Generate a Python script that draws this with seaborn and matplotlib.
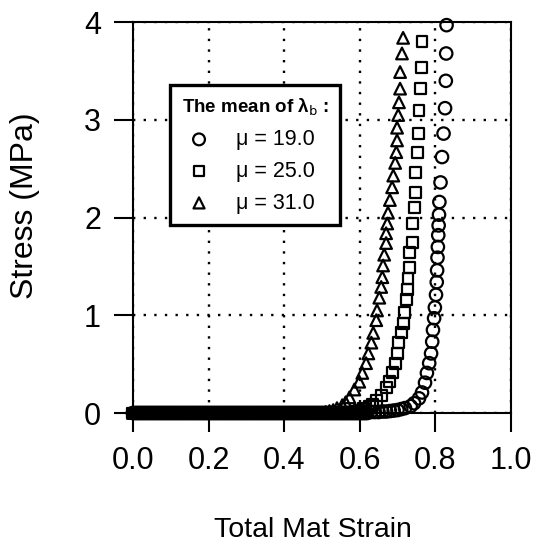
import pandas as pd
import matplotlib
matplotlib.use("Agg")
import matplotlib.pyplot as plt
import seaborn as sns

# flat part of the curves (stress ~ 0), densely sampled
flat_strain = [
    0.000, 0.005, 0.010, 0.015, 0.020, 0.025, 0.030, 0.035, 0.040, 0.045,
    0.050, 0.055, 0.060, 0.065, 0.070, 0.075, 0.080, 0.085, 0.090, 0.095,
    0.100, 0.105, 0.110, 0.115, 0.120, 0.125, 0.130, 0.135, 0.140, 0.145,
    0.150, 0.155, 0.160, 0.165, 0.170, 0.175, 0.180, 0.185, 0.190, 0.195,
    0.200, 0.205, 0.210, 0.215, 0.220, 0.225, 0.230, 0.235, 0.240, 0.245,
    0.250, 0.255, 0.260, 0.265, 0.270, 0.275, 0.280, 0.285, 0.290, 0.295,
    0.300, 0.305, 0.310, 0.315, 0.320, 0.325, 0.330, 0.335, 0.340, 0.345,
    0.350, 0.355, 0.360, 0.365, 0.370, 0.375, 0.380, 0.385, 0.390, 0.395,
    0.400, 0.405, 0.410, 0.415, 0.420, 0.425, 0.430, 0.435, 0.440, 0.445,
    0.450, 0.455, 0.460, 0.465, 0.470, 0.475, 0.480, 0.485, 0.490, 0.495,
    0.500, 0.505, 0.510, 0.515, 0.520, 0.525, 0.530, 0.535, 0.540, 0.545,
    0.550, 0.555, 0.560, 0.565, 0.570, 0.575, 0.580, 0.585, 0.590, 0.595,
    0.600, 0.605, 0.610, 0.615, 0.620,
]

# rising part, mu = 19.0 (circles)
strain_19 = [0.63, 0.64, 0.65, 0.66, 0.67, 0.68, 0.69, 0.70, 0.71, 0.72, 0.735,
             0.744, 0.757, 0.765, 0.773,
             0.778, 0.784, 0.789, 0.792, 0.794, 0.797, 0.799, 0.802, 0.804, 0.805,
             0.806, 0.807, 0.808, 0.809, 0.810, 0.811, 0.814, 0.818, 0.822, 0.826,
             0.828, 0.829, 0.830]
stress_19 = [0.01, 0.01, 0.01, 0.015, 0.015, 0.02, 0.025, 0.03, 0.04, 0.05, 0.07,
             0.10, 0.15, 0.21, 0.31,
             0.41, 0.51, 0.61, 0.73, 0.85, 0.97, 1.08, 1.21, 1.34, 1.46,
             1.59, 1.70, 1.82, 1.92, 2.03, 2.16, 2.36, 2.62, 2.86, 3.12,
             3.40, 3.68, 3.97]

# mu = 25.0 (squares)
strain_25 = [0.57, 0.58, 0.59, 0.60, 0.61, 0.625, 0.634, 0.644, 0.657, 0.670,
             0.678, 0.686, 0.694,
             0.699, 0.704, 0.710, 0.715, 0.718, 0.723, 0.726, 0.728, 0.731, 0.733,
             0.739, 0.741, 0.744, 0.747, 0.749, 0.753, 0.755, 0.757, 0.760, 0.763,
             0.765]
stress_25 = [0.01, 0.01, 0.02, 0.03, 0.05, 0.07, 0.09, 0.13, 0.18, 0.26,
             0.32, 0.41, 0.51,
             0.61, 0.72, 0.82, 0.92, 1.03, 1.16, 1.26, 1.38, 1.49, 1.64,
             1.75, 1.94, 2.10, 2.26, 2.46, 2.67, 2.86, 3.10, 3.32, 3.54,
             3.80]

# mu = 31.0 (triangles)
strain_31 = [0.51, 0.52, 0.53, 0.54, 0.554, 0.563, 0.573, 0.586, 0.599, 0.607,
             0.617, 0.623, 0.631,
             0.636, 0.644, 0.646, 0.652, 0.657, 0.660, 0.662, 0.665, 0.670, 0.670,
             0.673, 0.675, 0.680, 0.686, 0.689, 0.694, 0.697, 0.699, 0.699, 0.702,
             0.704, 0.707, 0.707, 0.712, 0.715]
stress_31 = [0.01, 0.02, 0.03, 0.05, 0.08, 0.11, 0.16, 0.24, 0.32, 0.41,
             0.51, 0.61, 0.72,
             0.82, 0.95, 1.05, 1.18, 1.29, 1.39, 1.51, 1.62, 1.74, 1.84,
             1.94, 2.05, 2.18, 2.31, 2.43, 2.56, 2.67, 2.79, 2.92, 3.05,
             3.18, 3.32, 3.49, 3.68, 3.84]

labels = ["μ = 19.0", "μ = 25.0", "μ = 31.0"]
rise_start = [0.62, 0.56, 0.50]


def build(strain, stress, start):
    xs = [s for s in flat_strain if s <= start + 1e-9] + strain
    ys = [0.0] * (len(xs) - len(strain)) + stress
    return pd.DataFrame({"strain": xs, "stress": ys})


sns.set_style("ticks")
plt.rcParams["font.family"] = ["Liberation Sans", "DejaVu Sans"]
plt.rcParams["text.color"] = "black"
plt.rcParams["axes.labelcolor"] = "black"

fig = plt.figure(figsize=(5.36, 5.42), dpi=100)
ax = fig.add_axes([0.248, 0.238, 0.705, 0.721])

series = [
    (build(strain_19, stress_19, rise_start[0]), "o", 80),
    (build(strain_25, stress_25, rise_start[1]), "s", 62),
    (build(strain_31, stress_31, rise_start[2]), "^", 70),
]
for (df, mk, size), lab in zip(series, labels):
    sns.scatterplot(data=df, x="strain", y="stress", ax=ax, marker=mk, s=size,
                    color="black", facecolor="none", edgecolor="black",
                    linewidth=1.6, label=lab, zorder=3, clip_on=False)

ax.set_xlim(0, 1.0)
ax.set_ylim(0, 4)
ax.set_xticks([0.0, 0.2, 0.4, 0.6, 0.8, 1.0])
ax.set_xticklabels(["0.0", "0.2", "0.4", "0.6", "0.8", "1.0"])
ax.set_yticks([0, 1, 2, 3, 4])
ax.grid(True, color="black", linestyle=(0, (1, 3.5)), linewidth=1.7)
for sp in ax.spines.values():
    sp.set_linewidth(1.5)
    sp.set_color("black")
ax.tick_params(direction="out", length=14, width=1.5, labelsize=22,
               colors="black")
ax.tick_params(axis="x", pad=10)
ax.tick_params(axis="y", pad=9)
ax.set_xlabel("Total Mat Strain", fontsize=20.5)
ax.set_ylabel("Stress (MPa)", fontsize=23)
ax.xaxis.set_label_coords(0.476, -0.265)
ax.yaxis.set_label_coords(-0.245, 0.53)

leg = ax.legend(title="The mean of λ$_\\mathrm{b}$ :", loc="upper left",
                bbox_to_anchor=(0.098, 0.839), fontsize=15.5,
                frameon=True, fancybox=False, edgecolor="black", framealpha=1,
                handletextpad=0.9, labelspacing=0.5, borderpad=0.55,
                handlelength=1.6, borderaxespad=0, markerscale=0.95)
leg.get_frame().set_linewidth(2.4)
leg._legend_box.align = "left"
title = leg.get_title()
title.set_fontsize(13.5)
title.set_fontweight("bold")

fig.savefig("out.png", dpi=100)
